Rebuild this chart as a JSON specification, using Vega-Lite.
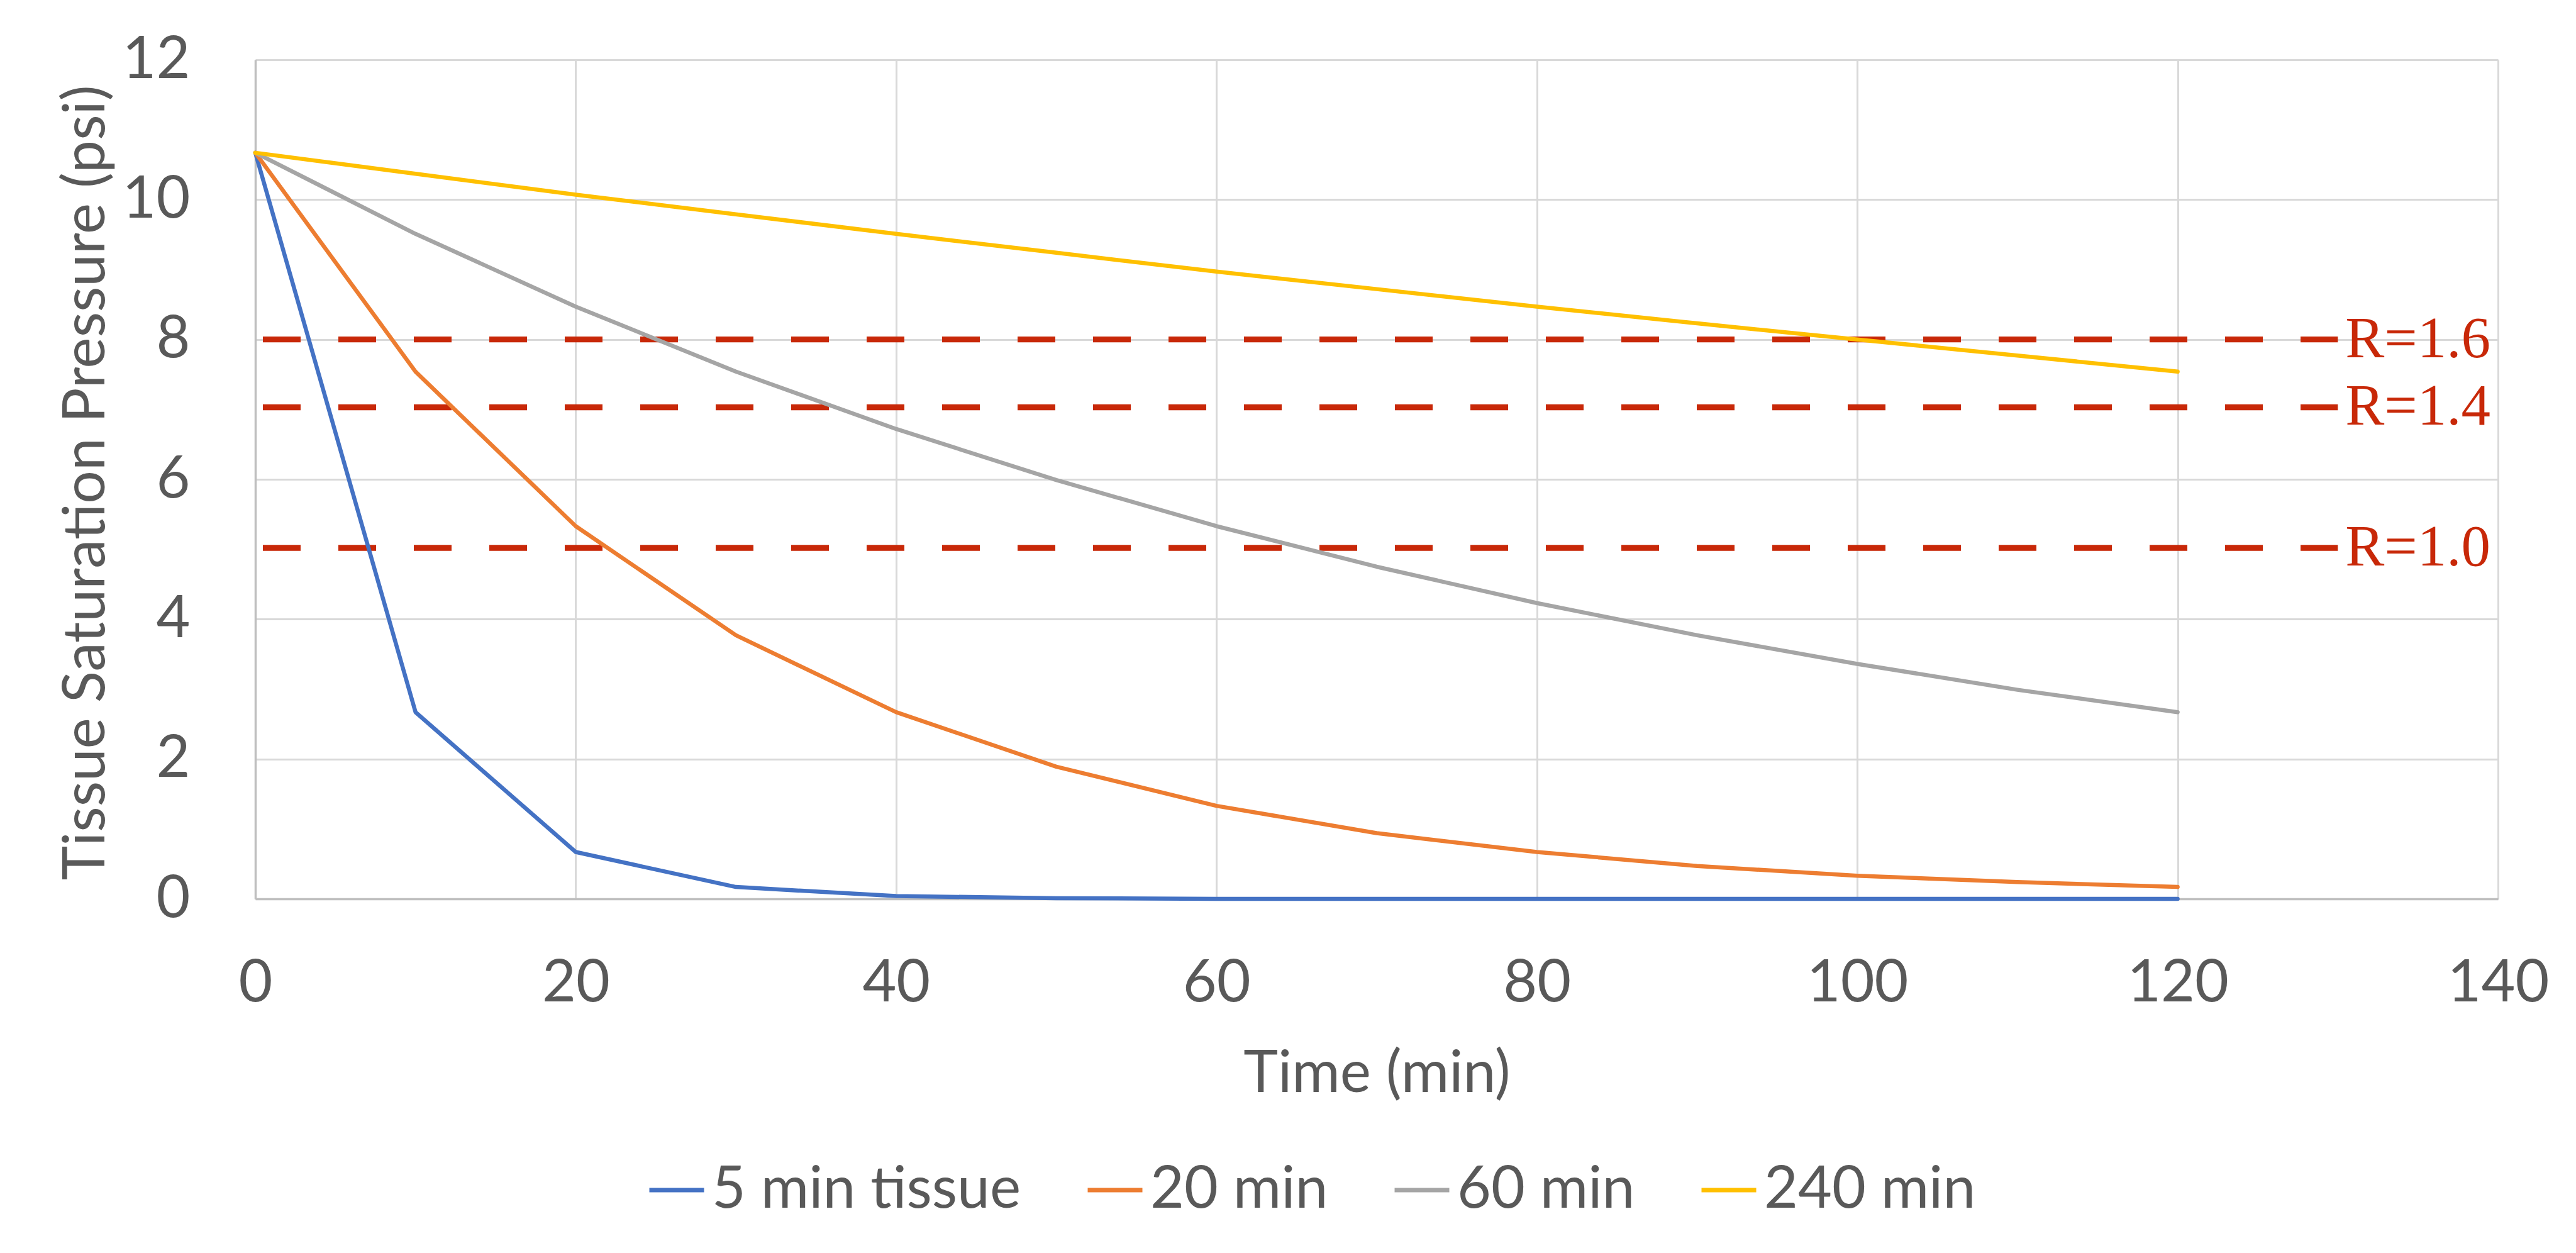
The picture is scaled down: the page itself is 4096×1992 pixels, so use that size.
{
  "$schema": "https://vega.github.io/schema/vega-lite/v6.json",
  "width": 3566,
  "height": 1334,
  "autosize": {"type": "none"},
  "padding": {"left": 406, "top": 95, "right": 124, "bottom": 563},
  "background": "white",
  "config": {
    "view": {"stroke": null},
    "font": "Lato",
    "axis": {
      "labelFont": "Lato", "labelFontSize": 93, "labelColor": "#595959",
      "titleFont": "Lato", "titleFontSize": 93, "titleColor": "#595959", "titleFontWeight": "normal",
      "gridColor": "#d9d9d9", "gridWidth": 3,
      "domainColor": "#bfbfbf", "domainWidth": 3.5,
      "ticks": false, "tickSize": 0, "labelFlush": false, "labelOverlap": false, "labelLimit": 0, "format": "d"
    },
    "axisX": {"labelPadding": 162, "labelBaseline": "alphabetic", "titleBaseline": "alphabetic", "titleX": 1783, "titleY": 306, "titleAlign": "center"},
    "axisY": {"labelPadding": 104, "titleAngle": 270, "titleX": -241, "titleY": 672, "titleBaseline": "alphabetic", "titleAlign": "center"}
  },
  "datasets": {
    "series": [
      {"time": 0, "pressure": 10.67, "tissue": "5 min tissue"},
      {"time": 10, "pressure": 2.67, "tissue": "5 min tissue"},
      {"time": 20, "pressure": 0.67, "tissue": "5 min tissue"},
      {"time": 30, "pressure": 0.17, "tissue": "5 min tissue"},
      {"time": 40, "pressure": 0.04, "tissue": "5 min tissue"},
      {"time": 50, "pressure": 0.01, "tissue": "5 min tissue"},
      {"time": 60, "pressure": 0.0, "tissue": "5 min tissue"},
      {"time": 70, "pressure": 0.0, "tissue": "5 min tissue"},
      {"time": 80, "pressure": 0.0, "tissue": "5 min tissue"},
      {"time": 90, "pressure": 0.0, "tissue": "5 min tissue"},
      {"time": 100, "pressure": 0.0, "tissue": "5 min tissue"},
      {"time": 110, "pressure": 0.0, "tissue": "5 min tissue"},
      {"time": 120, "pressure": 0.0, "tissue": "5 min tissue"},
      {"time": 0, "pressure": 10.67, "tissue": "20 min"},
      {"time": 10, "pressure": 7.54, "tissue": "20 min"},
      {"time": 20, "pressure": 5.33, "tissue": "20 min"},
      {"time": 30, "pressure": 3.77, "tissue": "20 min"},
      {"time": 40, "pressure": 2.67, "tissue": "20 min"},
      {"time": 50, "pressure": 1.89, "tissue": "20 min"},
      {"time": 60, "pressure": 1.33, "tissue": "20 min"},
      {"time": 70, "pressure": 0.94, "tissue": "20 min"},
      {"time": 80, "pressure": 0.67, "tissue": "20 min"},
      {"time": 90, "pressure": 0.47, "tissue": "20 min"},
      {"time": 100, "pressure": 0.33, "tissue": "20 min"},
      {"time": 110, "pressure": 0.24, "tissue": "20 min"},
      {"time": 120, "pressure": 0.17, "tissue": "20 min"},
      {"time": 0, "pressure": 10.67, "tissue": "60 min"},
      {"time": 10, "pressure": 9.51, "tissue": "60 min"},
      {"time": 20, "pressure": 8.47, "tissue": "60 min"},
      {"time": 30, "pressure": 7.54, "tissue": "60 min"},
      {"time": 40, "pressure": 6.72, "tissue": "60 min"},
      {"time": 50, "pressure": 5.99, "tissue": "60 min"},
      {"time": 60, "pressure": 5.33, "tissue": "60 min"},
      {"time": 70, "pressure": 4.75, "tissue": "60 min"},
      {"time": 80, "pressure": 4.23, "tissue": "60 min"},
      {"time": 90, "pressure": 3.77, "tissue": "60 min"},
      {"time": 100, "pressure": 3.36, "tissue": "60 min"},
      {"time": 110, "pressure": 2.99, "tissue": "60 min"},
      {"time": 120, "pressure": 2.67, "tissue": "60 min"},
      {"time": 0, "pressure": 10.67, "tissue": "240 min"},
      {"time": 10, "pressure": 10.37, "tissue": "240 min"},
      {"time": 20, "pressure": 10.07, "tissue": "240 min"},
      {"time": 30, "pressure": 9.79, "tissue": "240 min"},
      {"time": 40, "pressure": 9.51, "tissue": "240 min"},
      {"time": 50, "pressure": 9.24, "tissue": "240 min"},
      {"time": 60, "pressure": 8.97, "tissue": "240 min"},
      {"time": 70, "pressure": 8.72, "tissue": "240 min"},
      {"time": 80, "pressure": 8.47, "tissue": "240 min"},
      {"time": 90, "pressure": 8.23, "tissue": "240 min"},
      {"time": 100, "pressure": 8.0, "tissue": "240 min"},
      {"time": 110, "pressure": 7.77, "tissue": "240 min"},
      {"time": 120, "pressure": 7.54, "tissue": "240 min"}
    ],
    "ratio": [
      {"label": "R=1.6", "pressure": 8.0, "start": 0, "end": 130},
      {"label": "R=1.4", "pressure": 7.03, "start": 0, "end": 130},
      {"label": "R=1.0", "pressure": 5.02, "start": 0, "end": 130}
    ]
  },
  "layer": [
    {
      "data": {"name": "ratio"},
      "mark": {"type": "rule", "color": "#C82808", "strokeWidth": 9.4, "strokeDash": [60, 60], "strokeDashOffset": 108, "strokeCap": "butt"},
      "encoding": {
        "x": {"field": "start", "type": "quantitative", "title": "Time (min)", "scale": {"domain": [0, 140], "nice": false, "zero": false}, "axis": {"values": [0, 20, 40, 60, 80, 100, 120, 140]}},
        "x2": {"field": "end"},
        "y": {"field": "pressure", "type": "quantitative", "title": "Tissue Saturation Pressure (psi)", "scale": {"domain": [0, 12], "nice": false, "zero": false}, "axis": {"values": [0, 2, 4, 6, 8, 10, 12]}}
      }
    },
    {
      "data": {"name": "ratio"},
      "mark": {"type": "text", "font": "Liberation Serif", "fontSize": 93, "color": "#C82808", "align": "left", "baseline": "middle", "dx": 12},
      "encoding": {
        "x": {"field": "end", "type": "quantitative", "title": "Time (min)"},
        "y": {"field": "pressure", "type": "quantitative", "title": "Tissue Saturation Pressure (psi)"},
        "text": {"field": "label"}
      }
    },
    {
      "data": {"name": "series"},
      "mark": {"type": "line", "strokeWidth": 6.5, "strokeCap": "round", "strokeJoin": "round"},
      "encoding": {
        "x": {"field": "time", "type": "quantitative", "title": "Time (min)"},
        "y": {"field": "pressure", "type": "quantitative", "title": "Tissue Saturation Pressure (psi)"},
        "color": {
          "field": "tissue", "type": "nominal",
          "scale": {"domain": ["5 min tissue", "20 min", "60 min", "240 min"], "range": ["#4472C4", "#ED7D31", "#A5A5A5", "#FFC000"]},
          "legend": {
            "orient": "none", "legendX": 623, "legendY": 1750, "direction": "horizontal", "title": null,
            "symbolType": "stroke", "symbolSize": 7569, "symbolStrokeWidth": 7,
            "labelFont": "Lato", "labelFontSize": 93, "labelColor": "#595959", "labelOffset": 9,
            "columnPadding": 91, "padding": 0, "labelLimit": 0
          }
        }
      }
    }
  ]
}
